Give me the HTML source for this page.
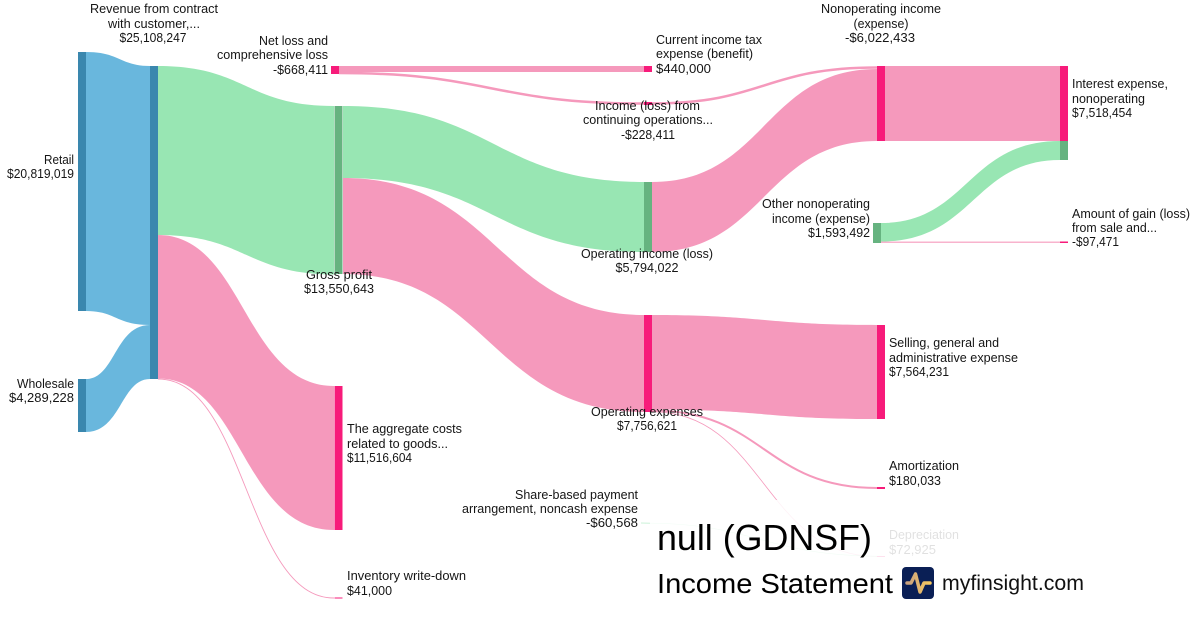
<!DOCTYPE html>
<html lang="en">
<head>
<meta charset="utf-8">
<title>Income Statement</title>
<style>
html,body{margin:0;padding:0;background:#fff;width:1200px;height:630px;overflow:hidden}
svg{display:block}
text{font-family:"Liberation Sans",Arial,sans-serif;font-size:12.5px;fill:#151515}
.e{text-anchor:end}.m{text-anchor:middle}
.b{fill:#69b7dd}.g{fill:#98e6b3}.p{fill:#f599bc}
.nb{fill:#3a87ae}.ng{fill:#66b380}.np{fill:#f71b7a}
</style>
</head>
<body>
<svg width="1200" height="630" viewBox="0 0 1200 630" xmlns="http://www.w3.org/2000/svg">
<defs><linearGradient id="lg" x1="0" x2="1" y1="0" y2="0"><stop offset="0" stop-color="#c9a27f"/><stop offset="1" stop-color="#f6c85f"/></linearGradient></defs>
<rect width="1200" height="630" fill="#fff"/>

<!-- links -->
<path class="b" d="M86 52C120 52 120 66 150 66L150 325C116 325 116 311 86 311Z"/>
<path class="b" d="M86 379C115 379 115 325 150 325L150 379C121 379 121 432 86 432Z"/>
<path class="g" d="M158 66C246 66 246 106 334 106L334 274.500C246 274.500 246 235 158 235Z"/>
<path class="p" d="M158 235C244 235 244 386 334 386L334 530C242 530 242 378.500 158 378.500Z"/>
<path d="M158 379C246 379 246 598 334 598" fill="none" stroke="#f599bc" stroke-width=".9"/>
<path class="g" d="M343 106C494 106 494 182 644 182L644 252C493 252 493 178 343 178Z"/>
<path class="p" d="M343 178C497.500 178 497.500 315 644 315L644 412C489.500 412 489.500 274 343 274Z"/>
<path class="p" d="M339 66L644 66L644 72L339 72Z"/>
<path d="M339 73C491 73 491 103.500 644 103.500" fill="none" stroke="#f599bc" stroke-width="2.500"/>
<path d="M652 103.500C764 103.500 764 67.500 877 67.500" fill="none" stroke="#f599bc" stroke-width="2.500"/>
<path class="p" d="M652 182C764.500 182 764.500 69 877 69L877 141C764.500 141 764.500 252 652 252Z"/>
<path class="p" d="M885 66L1060 66L1060 141L885 141Z"/>
<path class="g" d="M881 223C967.500 223 967.500 141 1060 141L1060 160C973.500 160 973.500 241.500 881 241.500Z"/>
<path class="p" d="M881 241.500L1060 241.500L1060 243L881 243Z" opacity=".75"/>
<path class="p" d="M652 315C764 315 764 325 877 325L877 419C764 419 764 409.500 652 409.500Z"/>
<path d="M652 410.500C764 410.500 764 488 877 488" fill="none" stroke="#f599bc" stroke-width="2"/>
<path d="M652 411.700C764 411.700 764 556.500 877 556.500" fill="none" stroke="#f599bc" stroke-width=".8"/>
<path d="M641 523C760 523 760 556.300 885 556.300" fill="none" stroke="#98e6b3" stroke-width=".6"/>

<!-- nodes -->
<rect class="nb" x="78" y="52" width="8" height="259"/>
<rect class="nb" x="78" y="379" width="8" height="53"/>
<rect class="nb" x="150" y="66" width="8" height="313"/>
<rect class="np" x="331" y="66" width="8" height="8"/>
<rect class="ng" x="334.500" y="106" width="8" height="168"/>
<rect class="np" x="334.500" y="386" width="8" height="144"/>
<rect class="np" x="334.500" y="597.500" width="8" height="1"/>
<rect class="np" x="644" y="66" width="8" height="6"/>
<rect class="np" x="644" y="102" width="8" height="3"/>
<rect class="ng" x="644" y="182" width="8" height="70"/>
<rect class="np" x="644" y="315" width="8" height="97"/>
<rect class="np" x="877" y="66" width="8" height="75"/>
<rect class="ng" x="873" y="223" width="8" height="20"/>
<rect class="np" x="1060" y="66" width="8" height="75"/>
<rect class="ng" x="1060" y="141" width="8" height="19"/>
<rect class="np" x="1060" y="241.500" width="8" height="1.500"/>
<rect class="np" x="877" y="325" width="8" height="94"/>
<rect class="np" x="877" y="487" width="8" height="2"/>
<rect class="np" x="877" y="556" width="8" height="1"/>

<!-- labels -->
<text class="m" x="154" y="13" textLength="128" lengthAdjust="spacingAndGlyphs">Revenue from contract</text>
<text class="m" x="154" y="28" textLength="92" lengthAdjust="spacingAndGlyphs">with customer,...</text>
<text class="m" x="153" y="42" textLength="67" lengthAdjust="spacingAndGlyphs">$25,108,247</text>
<text class="e" x="74" y="164" textLength="30" lengthAdjust="spacingAndGlyphs">Retail</text>
<text class="e" x="74" y="178" textLength="67" lengthAdjust="spacingAndGlyphs">$20,819,019</text>
<text class="e" x="74" y="388" textLength="57" lengthAdjust="spacingAndGlyphs">Wholesale</text>
<text class="e" x="74" y="402" textLength="65" lengthAdjust="spacingAndGlyphs">$4,289,228</text>
<text class="e" x="328" y="45" textLength="69" lengthAdjust="spacingAndGlyphs">Net loss and</text>
<text class="e" x="328" y="59" textLength="111" lengthAdjust="spacingAndGlyphs">comprehensive loss</text>
<text class="e" x="328" y="74" textLength="55" lengthAdjust="spacingAndGlyphs">-$668,411</text>
<text class="m" x="339" y="279" textLength="66" lengthAdjust="spacingAndGlyphs">Gross profit</text>
<text class="m" x="339" y="293" textLength="70" lengthAdjust="spacingAndGlyphs">$13,550,643</text>
<text x="347" y="433" textLength="115" lengthAdjust="spacingAndGlyphs">The aggregate costs</text>
<text x="347" y="448" textLength="101" lengthAdjust="spacingAndGlyphs">related to goods...</text>
<text x="347" y="462" textLength="65" lengthAdjust="spacingAndGlyphs">$11,516,604</text>
<text x="347" y="580" textLength="119" lengthAdjust="spacingAndGlyphs">Inventory write-down</text>
<text x="347" y="595" textLength="45" lengthAdjust="spacingAndGlyphs">$41,000</text>
<text x="656" y="44" textLength="106" lengthAdjust="spacingAndGlyphs">Current income tax</text>
<text x="656" y="58" textLength="97" lengthAdjust="spacingAndGlyphs">expense (benefit)</text>
<text x="656" y="73" textLength="55" lengthAdjust="spacingAndGlyphs">$440,000</text>
<text class="m" x="647.500" y="110" textLength="105" lengthAdjust="spacingAndGlyphs">Income (loss) from</text>
<text class="m" x="648" y="124" textLength="130" lengthAdjust="spacingAndGlyphs">continuing operations...</text>
<text class="m" x="648" y="139" textLength="54" lengthAdjust="spacingAndGlyphs">-$228,411</text>
<text class="m" x="647" y="258" textLength="132" lengthAdjust="spacingAndGlyphs">Operating income (loss)</text>
<text class="m" x="647" y="272" textLength="63" lengthAdjust="spacingAndGlyphs">$5,794,022</text>
<text class="m" x="647" y="416" textLength="112" lengthAdjust="spacingAndGlyphs">Operating expenses</text>
<text class="m" x="647" y="430" textLength="60" lengthAdjust="spacingAndGlyphs">$7,756,621</text>
<text class="m" x="881" y="13" textLength="120" lengthAdjust="spacingAndGlyphs">Nonoperating income</text>
<text class="m" x="881" y="28" textLength="55" lengthAdjust="spacingAndGlyphs">(expense)</text>
<text class="m" x="880" y="42" textLength="70" lengthAdjust="spacingAndGlyphs">-$6,022,433</text>
<text class="e" x="870" y="208" textLength="108" lengthAdjust="spacingAndGlyphs">Other nonoperating</text>
<text class="e" x="870" y="223" textLength="98" lengthAdjust="spacingAndGlyphs">income (expense)</text>
<text class="e" x="870" y="237" textLength="62" lengthAdjust="spacingAndGlyphs">$1,593,492</text>
<text x="1072" y="88" textLength="96" lengthAdjust="spacingAndGlyphs">Interest expense,</text>
<text x="1072" y="103" textLength="73" lengthAdjust="spacingAndGlyphs">nonoperating</text>
<text x="1072" y="117" textLength="60" lengthAdjust="spacingAndGlyphs">$7,518,454</text>
<text x="1072" y="218" textLength="118" lengthAdjust="spacingAndGlyphs">Amount of gain (loss)</text>
<text x="1072" y="232" textLength="85" lengthAdjust="spacingAndGlyphs">from sale and...</text>
<text x="1072" y="246" textLength="47" lengthAdjust="spacingAndGlyphs">-$97,471</text>
<text x="889" y="347" textLength="110" lengthAdjust="spacingAndGlyphs">Selling, general and</text>
<text x="889" y="362" textLength="129" lengthAdjust="spacingAndGlyphs">administrative expense</text>
<text x="889" y="376" textLength="60" lengthAdjust="spacingAndGlyphs">$7,564,231</text>
<text x="889" y="470" textLength="70" lengthAdjust="spacingAndGlyphs">Amortization</text>
<text x="889" y="485" textLength="52" lengthAdjust="spacingAndGlyphs">$180,033</text>
<text class="e" x="638" y="499" textLength="123" lengthAdjust="spacingAndGlyphs">Share-based payment</text>
<text class="e" x="638" y="513" textLength="176" lengthAdjust="spacingAndGlyphs">arrangement, noncash expense</text>
<text class="e" x="638" y="527" textLength="52" lengthAdjust="spacingAndGlyphs">-$60,568</text>
<text x="889" y="539" textLength="70" lengthAdjust="spacingAndGlyphs">Depreciation</text>
<text x="889" y="554" textLength="47" lengthAdjust="spacingAndGlyphs">$72,925</text>

<!-- title overlay -->
<rect x="650" y="500" width="450" height="105" fill="#fff" fill-opacity=".87"/>
<text x="657" y="550" textLength="215" lengthAdjust="spacingAndGlyphs" style="font-size:36px;fill:#000">null (GDNSF)</text>
<text x="657" y="593" textLength="236" lengthAdjust="spacingAndGlyphs" style="font-size:28px;fill:#000">Income Statement</text>
<rect x="902" y="567" width="32" height="32" rx="4" fill="#0a1f55"/>
<path d="M907 583L911 583L915.500 574L920 592L924 583L930 583" fill="none" stroke="url(#lg)" stroke-width="3.500" stroke-linejoin="round" stroke-linecap="round"/>
<text x="942" y="590" textLength="142" lengthAdjust="spacingAndGlyphs" style="font-size:21px;fill:#111">myfinsight.com</text>
</svg>
</body>
</html>
